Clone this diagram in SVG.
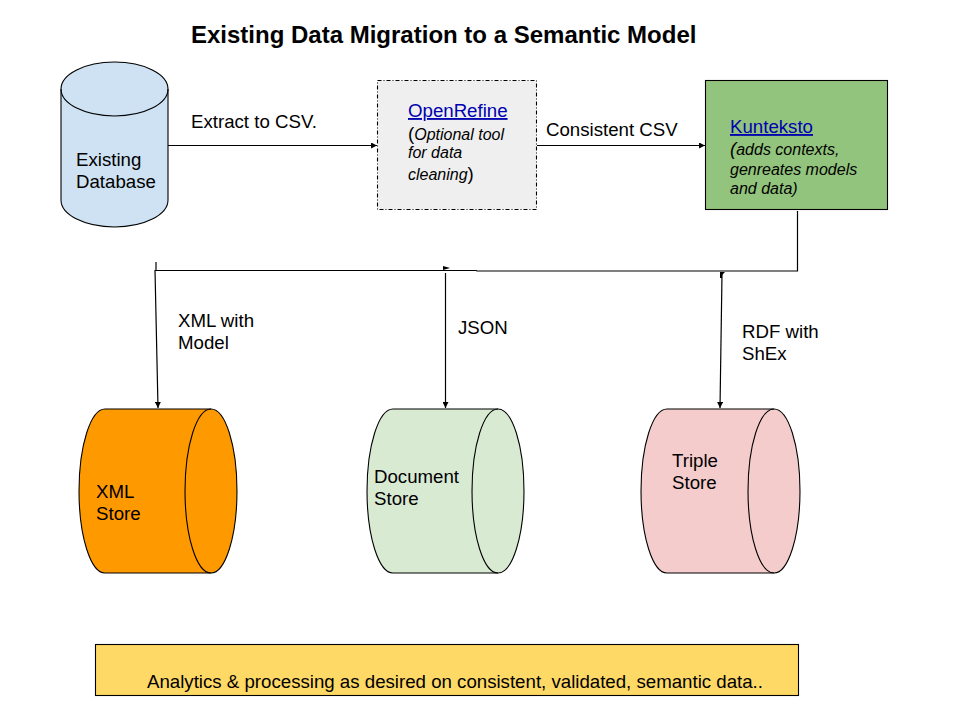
<svg xmlns="http://www.w3.org/2000/svg" width="960" height="720" viewBox="0 0 960 720">
<style>
text{font-family:"Liberation Sans",Arial,sans-serif;font-size:18.67px;fill:#000}
.shape{stroke:#000;stroke-width:1.1}
.line{fill:none;stroke:#000;stroke-width:1.2}
.it{font-style:italic;font-size:16px}
.link{fill:#0000b0;text-decoration:underline}
</style>
<defs>
<marker id="arrow" markerUnits="userSpaceOnUse" markerWidth="7" markerHeight="6" refX="6" refY="3" orient="auto"><path d="M0 0L6 3L0 6Z" fill="#000"/></marker>
</defs>
<rect width="960" height="720" fill="#fff"/>
<text id="title" x="191" y="43" style="font-size:24px;font-weight:bold">Existing Data Migration to a Semantic Model</text>
<g id="connectors">
<path class="line" d="M168 145.500H377" marker-end="url(#arrow)"/>
<path class="line" d="M537 145.500H705" marker-end="url(#arrow)"/>
<path class="line" d="M797.500 211V271H477L476 270.500H155"/>
<path class="line" d="M156 262V270"/>
<path class="line" d="M155 270L158 408" marker-end="url(#arrow)"/>
<path class="line" d="M445.500 273V408" marker-end="url(#arrow)"/>
<path d="M443 266L450 268L443 270Z" fill="#000"/>
<path class="line" d="M722 274L720 408" marker-end="url(#arrow)"/>
<path d="M720 272H725L722 275L722 278L720 278Z" fill="#000"/>
</g>
<g id="existing-database">
<path class="shape" fill="#cfe2f3" d="M61 89A53.500 27 0 0 1 168 89V200A53.500 27 0 0 1 61 200Z"/>
<path class="shape" fill="none" d="M61 89A53.500 27 0 0 0 168 89"/>
<text x="76" y="166">Existing</text><text x="76" y="188">Database</text>
</g>
<g id="openrefine">
<rect class="shape" x="377.500" y="80.500" width="159" height="129" fill="#efefef" stroke-dasharray="4 2 1 2"/>
<text x="408" y="117" class="link">OpenRefine</text>
<text x="408" y="140">(<tspan class="it">Optional tool</tspan></text>
<text x="408" y="158" class="it">for data</text>
<text x="408" y="180"><tspan class="it">cleaning</tspan>)</text>
</g>
<g id="kunteksto">
<rect class="shape" x="705.500" y="80.500" width="182" height="129" fill="#93c47d"/>
<text x="730" y="133" class="link">Kunteksto</text>
<text x="730" y="155"><tspan style="font-style:italic">(</tspan><tspan class="it">adds contexts,</tspan></text>
<text x="730" y="175" class="it">genreates models</text>
<text x="730" y="194" class="it">and data)</text>
</g>
<g id="xml-store">
<path class="shape" fill="#ff9900" d="M105 409H211A26 82 0 0 1 211 573H105A26 82 0 0 1 105 409Z"/>
<path class="shape" fill="none" d="M211 409A26 82 0 0 0 211 573"/>
<text x="96" y="498">XML</text><text x="96" y="520">Store</text>
</g>
<g id="document-store">
<path class="shape" fill="#d9ead3" d="M393 409H498A26 82 0 0 1 498 573H393A26 82 0 0 1 393 409Z"/>
<path class="shape" fill="none" d="M498 409A26 82 0 0 0 498 573"/>
<text x="374" y="483">Document</text><text x="374" y="505">Store</text>
</g>
<g id="triple-store">
<path class="shape" fill="#f4cccc" d="M667 409H774A26 82 0 0 1 774 573H667A26 82 0 0 1 667 409Z"/>
<path class="shape" fill="none" d="M774 409A26 82 0 0 0 774 573"/>
<text x="672" y="467">Triple</text><text x="672" y="489">Store</text>
</g>
<g id="analytics">
<rect class="shape" x="95.500" y="644.500" width="703" height="51" fill="#ffd966"/>
<text x="147" y="688">Analytics &amp; processing as desired on consistent, validated, semantic data..</text>
</g>
<g id="labels">
<text x="191" y="128">Extract to CSV.</text>
<text x="546" y="136">Consistent CSV</text>
<text x="178" y="327">XML with</text><text x="178" y="349">Model</text>
<text x="458" y="334">JSON</text>
<text x="742" y="338">RDF with</text><text x="742" y="360">ShEx</text>
</g>
</svg>
